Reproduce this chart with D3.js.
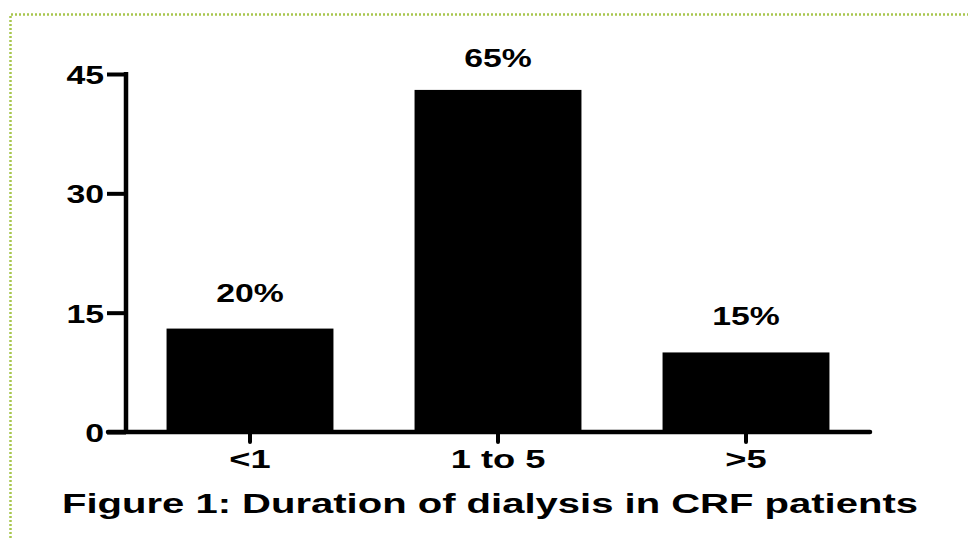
<!DOCTYPE html>
<html><head><meta charset="utf-8">
<script src="https://cdn.jsdelivr.net/npm/d3@7"></script>
<style>
html,body{margin:0;padding:0;background:#fff;}
text{font-family:"Liberation Sans",Arial,sans-serif;font-weight:bold;fill:#000;}
</style></head>
<body>
<script>
const categories = ["<1", "1 to 5", ">5"];
const values = [13, 43, 10];
const percentLabels = ["20%", "65%", "15%"];
const yTicks = [0, 15, 30, 45];
const title = "Figure 1: Duration of dialysis in CRF patients";

const W = 968, H = 538;
const svg = d3.select("body").append("svg").attr("width", W).attr("height", H);

function stretch(sel, k) {
  sel.each(function () {
    const w = this.getComputedTextLength();
    d3.select(this).attr("textLength", w * k).attr("lengthAdjust", "spacingAndGlyphs");
  });
}

// dotted green frame
svg.append("path")
  .attr("d", `M10.5,${H} V14.5 H${W}`)
  .attr("fill", "none").attr("stroke", "#a8c64e").attr("stroke-width", 2.5)
  .attr("stroke-dasharray", "2,2");

const x = d3.scaleBand().domain(categories).range([126, 870])
  .paddingInner(0.327).paddingOuter(0.1635);
const y = d3.scaleLinear().domain([0, 45]).range([432, 74]);

// bars
svg.selectAll("rect.bar").data(values).join("rect")
  .attr("x", (d, i) => x(categories[i]))
  .attr("y", d => y(d))
  .attr("width", x.bandwidth())
  .attr("height", d => y(0) - y(d))
  .attr("fill", "#000");

// y axis
const yAxis = d3.axisLeft(y).tickValues(yTicks).tickSize(19).tickPadding(3).tickSizeOuter(0);
const gy = svg.append("g").attr("transform", "translate(126,0)").call(yAxis);
gy.select(".domain").attr("stroke", "#000").attr("stroke-width", 4.5).attr("d", `M0,${y(0)+2}V${y(45)-2}`);
gy.selectAll(".tick line").attr("stroke", "#000").attr("stroke-width", 4);
gy.selectAll(".tick text").style("font-size", "26px").attr("dy", "0.36em")
  .style("font-family", "'Liberation Sans',Arial,sans-serif").style("font-weight", "bold");
stretch(gy.selectAll(".tick text"), 1.3);

// x axis
const xAxis = d3.axisBottom(x).tickSize(10).tickPadding(8).tickSizeOuter(0);
const gx = svg.append("g").attr("transform", `translate(0,${y(0)})`).call(xAxis);
gx.select(".domain").attr("stroke", "#000").attr("stroke-width", 4.5).attr("stroke-linecap", "round").attr("d", "M108,0H870");
gx.selectAll(".tick line").attr("stroke", "#000").attr("stroke-width", 4).attr("stroke-linecap", "round");
gx.selectAll(".tick text").style("font-size", "25px").attr("dy", "0.71em")
  .style("font-family", "'Liberation Sans',Arial,sans-serif").style("font-weight", "bold");
stretch(gx.selectAll(".tick text"), 1.45);

// percent labels
const pct = svg.selectAll("text.pct").data(values).join("text").attr("class", "pct")
  .attr("x", (d, i) => x(categories[i]) + x.bandwidth() / 2)
  .attr("y", d => Math.max(y(d) - 27, 67))
  .attr("text-anchor", "middle")
  .style("font-size", "25px")
  .text((d, i) => percentLabels[i]);
stretch(pct, 1.35);

// title
const t = svg.append("text").attr("x", 62).attr("y", 513)
  .style("font-size", "27px")
  .text(title);
t.attr("textLength", 856).attr("lengthAdjust", "spacingAndGlyphs");
</script>
</body></html>
